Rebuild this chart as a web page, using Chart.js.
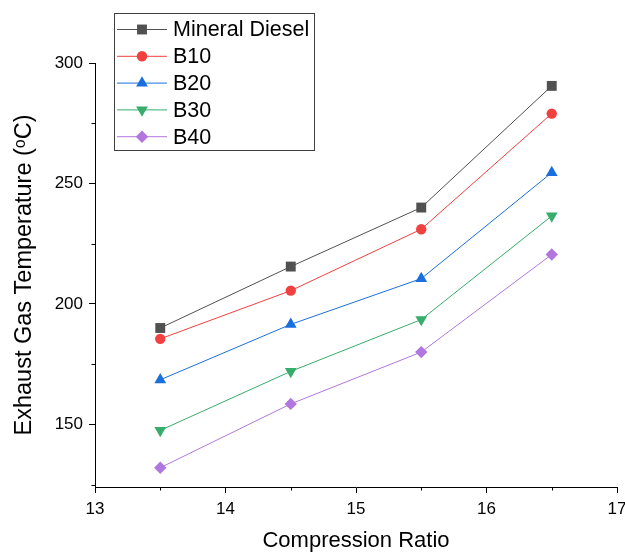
<!DOCTYPE html>
<html>
<head>
<meta charset="utf-8">
<script src="https://cdn.jsdelivr.net/npm/chart.js@4"></script>
<style>
  html, body { margin: 0; padding: 0; background: #fff; }
  #wrap { width: 625px; height: 554px; }
</style>
</head>
<body>
<div id="wrap"><canvas id="chart"></canvas></div>
<script>
// compression ratios tested
var ratios = [13.5, 14.5, 15.5, 16.5];

// exhaust gas temperature, deg C
var mineralDiesel = [190, 215.5, 240, 290.5];
var b10 = [185.5, 205.5, 231, 279];
var b20 = [168.5, 191.5, 210.5, 254.5];
var b30 = [147.5, 172, 193.5, 236.5];
var b40 = [132, 158.5, 180, 220.5];

var xTicks = [13, 14, 15, 16, 17];
var xMinor = [13.5, 14.5, 15.5, 16.5];
var yTicks = [150, 200, 250, 300];
var yMinor = [125, 175, 225, 275];

var FONT = 'Liberation Sans, Arial, sans-serif';

function series(label, values, color, style, radius, rot) {
    return {
        label: label,
        data: values.map(function(v, i) { return {x: ratios[i], y: v}; }),
        borderColor: color,
        backgroundColor: color,
        borderWidth: 1,
        pointStyle: style,
        pointRadius: radius,
        pointHoverRadius: radius,
        pointBorderWidth: 0,
        pointRotation: rot || 0
    };
}

// minor tick marks (shorter than the major ones)
var minorTicks = {
    id: 'minorTicks',
    afterDraw: function(chart) {
        var ctx = chart.ctx, xs = chart.scales.x, ys = chart.scales.y;
        ctx.save();
        ctx.strokeStyle = '#000';
        ctx.lineWidth = 1;
        ctx.beginPath();
        xMinor.forEach(function(v) {
            var px = Math.round(xs.getPixelForValue(v)) + 0.5;
            ctx.moveTo(px, ys.bottom);
            ctx.lineTo(px, ys.bottom + 3.5);
        });
        yMinor.forEach(function(v) {
            var py = Math.round(ys.getPixelForValue(v)) + 0.5;
            ctx.moveTo(xs.left, py);
            ctx.lineTo(xs.left - 3.5, py);
        });
        ctx.stroke();
        ctx.restore();
    }
};

// boxed legend with a line through each marker
var boxLegend = {
    id: 'boxLegend',
    afterDraw: function(chart) {
        var ctx = chart.ctx;
        ctx.save();
        ctx.strokeStyle = '#404040';
        ctx.lineWidth = 1;
        ctx.strokeRect(114.5, 13.5, 200, 137);
        ctx.font = '21.5px ' + FONT;
        ctx.textBaseline = 'middle';
        ctx.textAlign = 'left';
        chart.data.datasets.forEach(function(ds, i) {
            var y = 29.5 + 26.8 * i;
            ctx.strokeStyle = ds.borderColor;
            ctx.beginPath();
            ctx.moveTo(117, y);
            ctx.lineTo(167, y);
            ctx.stroke();
            ctx.fillStyle = ds.backgroundColor;
            Chart.helpers.drawPoint(ctx, {
                pointStyle: ds.pointStyle,
                radius: ds.pointRadius,
                rotation: ds.pointRotation,
                borderWidth: 0
            }, 142, y);
            ctx.fillStyle = '#000';
            ctx.fillText(ds.label, 173, y + 1);
        });
        ctx.restore();
    }
};

new Chart(document.getElementById('chart'), {
    type: 'line',
    data: {
        datasets: [
            series('Mineral Diesel', mineralDiesel, '#515151', 'rect', 7),
            series('B10', b10, '#f14040', 'circle', 5.2),
            series('B20', b20, '#1a6fdf', 'triangle', 6.8),
            series('B30', b30, '#37ad6b', 'triangle', 6.8, 180),
            series('B40', b40, '#b177de', 'rectRot', 6.2)
        ]
    },
    options: {
        responsive: true,
        maintainAspectRatio: false,
        animation: false,
        layout: { padding: { left: 0, top: 63, right: 8, bottom: 0 } },
        plugins: {
            legend: { display: false },
            tooltip: { enabled: false }
        },
        scales: {
            x: {
                type: 'linear',
                min: 13,
                max: 17,
                afterBuildTicks: function(s) {
                    s.ticks = xTicks.map(function(v) { return {value: v}; });
                },
                afterFit: function(s) {
                    s.height = 67;
                    s.paddingLeft = 0;
                    s.paddingRight = 0;
                },
                border: { display: true, color: '#000', width: 1 },
                grid: { drawOnChartArea: false, drawTicks: true, tickLength: 6, color: '#000' },
                ticks: {
                    color: '#000',
                    font: { family: FONT, size: 17 },
                    padding: 6,
                    maxRotation: 0
                },
                title: {
                    display: true,
                    text: 'Compression Ratio',
                    color: '#000',
                    font: { family: FONT, size: 22 },
                    padding: { top: 0, bottom: 0 }
                }
            },
            y: {
                min: 124,
                max: 300,
                afterBuildTicks: function(s) {
                    s.ticks = yTicks.map(function(v) { return {value: v}; });
                },
                afterFit: function(s) { s.width = 95; },
                border: { display: true, color: '#000', width: 1 },
                grid: { drawOnChartArea: false, drawTicks: true, tickLength: 6, color: '#000' },
                ticks: {
                    color: '#000',
                    font: { family: FONT, size: 17 },
                    padding: 6
                },
                title: {
                    display: true,
                    text: 'Exhaust Gas Temperature (ᵒC)',
                    color: '#000',
                    font: { family: FONT, size: 23.5 },
                    padding: { top: 10, bottom: 0 }
                }
            }
        }
    },
    plugins: [minorTicks, boxLegend]
});
</script>
</body>
</html>
